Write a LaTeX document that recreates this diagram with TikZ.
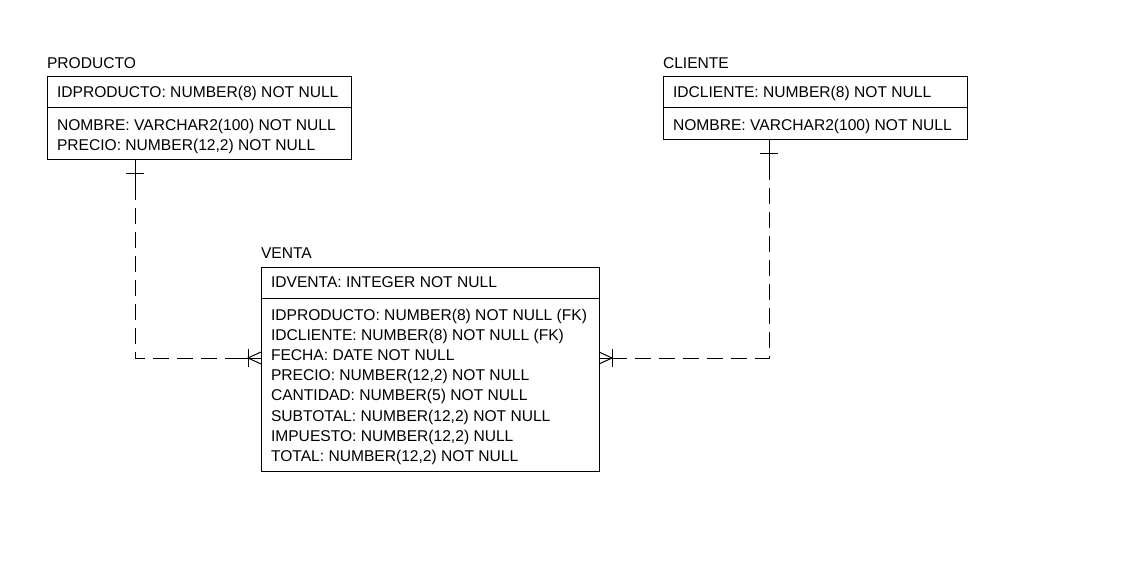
\documentclass[tikz,border=0pt]{standalone}
\usepackage{fontspec}
\setmainfont{Liberation Sans}
\begin{document}
\begin{tikzpicture}[x=1pt,y=-1pt,
  every node/.style={inner sep=0pt,outer sep=0pt},
  box/.style={draw,line width=1pt,anchor=north west,minimum width=#1},
  txt/.style={anchor=base west,font=\fontsize{15.6}{20}\selectfont},
  rel/.style={line width=1pt,dash pattern=on 16pt off 8pt},
  mk/.style={line width=1pt}]
\useasboundingbox (0,0) rectangle (1147,569);
% PRODUCTO
\node[txt] (pt) at (47,68.5) {PRODUCTO};
\node[box=304pt,minimum height=31pt] (pk) at (47,77) {};
\node[box=304pt,minimum height=52pt] (pa) at (47,108) {};
\node[txt] (p1) at (57,97.5) {IDPRODUCTO: NUMBER(8) NOT NULL};
\node[txt] (p2) at (57,130.5) {NOMBRE: VARCHAR2(100) NOT NULL};
\node[txt] (p3) at (57,150.5) {PRECIO: NUMBER(12,2) NOT NULL};
% CLIENTE
\node[txt] (ct) at (663,68.5) {CLIENTE};
\node[box=304pt,minimum height=31pt] (ck) at (663,77) {};
\node[box=304pt,minimum height=32pt] (ca) at (663,108) {};
\node[txt] (c1) at (673,97.5) {IDCLIENTE: NUMBER(8) NOT NULL};
\node[txt] (c2) at (673,130.5) {NOMBRE: VARCHAR2(100) NOT NULL};
% VENTA
\node[txt] (vt) at (261,258.5) {VENTA};
\node[box=338pt,minimum height=31pt] (vk) at (261,267) {};
\node[box=338pt,minimum height=173pt] (va) at (261,298) {};
\node[txt] (v0) at (271,287.5) {IDVENTA: INTEGER NOT NULL};
\node[txt] (v1) at (271,320.5) {IDPRODUCTO: NUMBER(8) NOT NULL (FK)};
\node[txt] (v2) at (271,340.5) {IDCLIENTE: NUMBER(8) NOT NULL (FK)};
\node[txt] (v3) at (271,360.5) {FECHA: DATE NOT NULL};
\node[txt] (v4) at (271,380.5) {PRECIO: NUMBER(12,2) NOT NULL};
\node[txt] (v5) at (271,400.5) {CANTIDAD: NUMBER(5) NOT NULL};
\node[txt] (v6) at (271,421.5) {SUBTOTAL: NUMBER(12,2) NOT NULL};
\node[txt] (v7) at (271,441.5) {IMPUESTO: NUMBER(12,2) NULL};
\node[txt] (v8) at (271,461.5) {TOTAL: NUMBER(12,2) NOT NULL};
% connectors
\coordinate (b1) at (135,358);
\coordinate (b2) at (769,358);
\draw[rel] (pa.south west -| b1) -- (b1) -- (va.west |- b1);
\draw[rel] (ca.south west -| b2) -- (b2) -- (va.east |- b2);
% one marks
\draw[mk] (pa.south west -| b1) -- ++(0,32);
\draw[mk] (126,174) -- (144,174);
\draw[mk] (ca.south west -| b2) -- ++(0,30);
\draw[mk] (760,154) -- (778,154);
% many marks
\draw[mk] (239,358) -- (va.west |- b1);
\draw[mk] (248,349) -- (248,367);
\draw[mk] (261,352) -- (248,358) -- (261,364);
\draw[mk] (va.east |- b1) -- (612,358);
\draw[mk] (612,349) -- (612,367);
\draw[mk] (599,352) -- (612,358) -- (599,364);
\end{tikzpicture}
\end{document}
